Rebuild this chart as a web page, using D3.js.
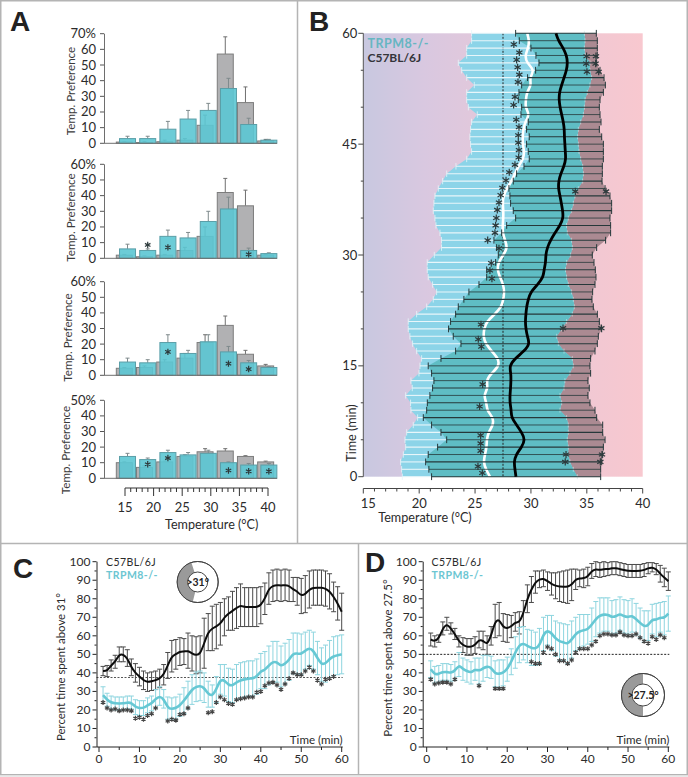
<!DOCTYPE html>
<html><head><meta charset="utf-8">
<script src="https://cdn.jsdelivr.net/npm/d3@7"></script>
<style>
html,body{margin:0;padding:0;background:#fff}
svg{display:block}
text{font-family:Lato,"Open Sans",sans-serif;fill:#2b2b2b}
</style></head><body><div id="c"></div>
<script>
// ---------- Panel A data ----------
const binCentersCyan=[15.44,18.97,22.5,26.03,29.56,33.09,36.62,40.15];
const binCentersGray=[14.88,18.41,21.94,25.47,29.0,32.53,36.06,39.59];
const a1Cyan=[3,3,9,15.5,21,35,12,2];
const a1CyanErr=[4.5,4.5,14,21,25.5,41.5,16,2.5];
const a1Gray=[0.8,0.5,1,2,11.5,57,26,1.5];
const a1GrayErr=[1,1,2,3,18,68,36,2.5];
const a1Stars=[];
const a2Cyan=[6,5,14,13,23.5,31.5,5,3];
const a2CyanErr=[9,6,18,16.5,30,39,6.5,3.5];
const a2Gray=[2,1,2,5,14,42,33.5,2];
const a2GrayErr=[2.5,1.5,2.5,7,20,51,43.5,2.5];
const a2Stars=[[18.97,8.5],[22.5,7],[36.62,2.5]];
const a3Cyan=[8.5,8,21,14,21.5,15,8,5];
const a3CyanErr=[11,10,26,16,26,18.5,9.5,5.5];
const a3Gray=[4.5,5,8.5,11,21,32,13.5,6];
const a3GrayErr=[5,6,10,14,26,38,16,7];
const a3Stars=[[22.5,15],[33.09,7.5],[36.62,4]];
const a4Cyan=[14,12,16.5,15,16,10,8.5,8.5];
const a4CyanErr=[16,13,18,16.5,18,10.5,9.5,9.5];
const a4Gray=[10,7,10.5,14,17,17.5,14,10.5];
const a4GrayErr=[10.5,8,11,15,19,19,14.5,11];
const a4Stars=[[18.97,9],[22.5,13],[33.09,5],[36.62,4.5],[40.15,4.5]];
const tempTicks=[15,20,25,30,35,40];

// ---------- Panel B data (index = minute 0..60) ----------
const cyanLeft=[18.49,18.43,18.34,18.58,18.79,18.73,18.88,19.47,19.86,19.26,19.23,18.79,19.38,19.26,19.98,20.07,20.22,19.77,19.41,19.17,19.02,19.02,19.77,20.67,21.26,21.56,21.2,20.81,20.72,20.72,21.35,22.0,22.0,21.86,21.5,21.41,21.26,21.32,21.41,21.71,22.1,22.46,23.29,24.25,24.69,24.6,24.54,24.6,24.69,25.2,24.4,24.25,24.25,24.93,24.25,23.8,23.5,24.25,24.25,24.69,24.69];
const cyanRight=[34.15,33.79,33.49,33.34,33.34,33.25,33.34,33.34,33.19,32.6,32.75,32.6,32.96,33.04,33.49,33.79,33.7,32.96,32.45,32.3,32.75,33.19,33.7,33.88,33.79,33.64,33.34,33.19,33.1,33.19,33.55,33.7,33.64,33.25,33.19,33.34,33.64,33.79,33.94,34.24,34.63,34.69,34.63,34.45,34.3,34.24,34.18,34.24,34.45,34.69,34.78,34.84,35.04,35.28,35.43,35.28,35.28,34.84,34.78,34.84,34.78];
const trpmMean=[26.33,25.97,25.74,25.89,26.04,26.04,26.19,26.63,26.63,26.04,26.04,25.74,26.19,25.97,26.48,27.17,27.08,26.48,25.94,25.74,25.8,26.04,26.78,27.38,27.53,27.62,27.53,27.23,26.99,27.08,27.53,27.92,27.68,27.47,27.47,27.53,27.53,27.47,27.53,27.83,28.27,28.57,28.87,29.32,29.41,29.26,29.26,29.32,29.47,29.91,29.47,29.56,29.61,30.06,29.85,30.36,29.61,29.47,29.76,29.85,29.67];
const c57Left=[21.11,20.87,20.58,20.81,21.65,22.46,21.95,21.11,20.37,20.67,20.73,20.96,21.2,21.32,21.11,20.81,21.95,23.26,23.74,23.05,22.63,22.81,23.26,23.5,24.0,24.45,25.35,26.04,26.04,26.84,27.08,26.93,26.69,27.38,27.83,28.63,28.42,28.18,28.12,28.03,28.42,28.72,29.38,29.85,29.76,29.61,29.85,29.61,29.76,29.11,29.17,28.87,28.93,29.17,29.7,30.42,30.72,30.45,30.0,28.96,28.63];
const c57Right=[36.24,36.24,36.33,36.42,36.48,36.63,36.42,36.42,35.88,35.73,35.28,35.1,35.22,35.1,35.34,35.28,35.34,35.73,35.94,36.03,36.33,36.12,35.94,35.58,35.46,35.52,35.73,35.82,35.76,35.64,35.49,35.88,36.68,37.13,37.13,37.07,37.22,37.22,37.07,36.63,36.36,36.39,36.39,36.48,36.48,36.48,36.33,36.12,36.27,36.18,36.12,36.18,36.48,36.66,36.54,36.18,35.88,35.94,35.94,35.94,35.85];
const c57Mean=[28.66,28.57,28.48,28.66,29.17,29.49,29.17,28.72,28.24,28.24,28.12,28.12,28.18,28.21,28.21,28.06,28.57,29.41,29.91,29.67,29.55,29.49,29.55,29.61,29.76,29.97,30.6,31.11,31.17,31.32,31.32,31.46,31.76,32.15,32.6,32.9,32.84,32.72,32.6,32.45,32.48,32.66,32.96,33.13,33.07,33.04,32.99,32.99,32.9,32.75,32.6,32.51,32.54,32.75,32.96,33.19,33.28,33.19,32.9,32.45,32.24];
const bStars=[[28.47,58.5],[28.96,57.4],[28.72,56.4],[28.81,55.4],[28.96,54.4],[28.84,53.4],[28.57,51.4],[28.45,50.3],[28.69,48.3],[28.93,47.3],[28.87,46.2],[28.87,45.2],[28.93,44.2],[28.9,43.2],[28.57,42.2],[28.06,41.2],[27.77,40.1],[27.44,39.1],[27.29,38.1],[27.14,37.1],[26.99,36.1],[26.9,35],[26.84,34],[26.78,33],[26.13,32],[27.14,30.9],[26.45,28.9],[26.33,27.9],[26.51,26.8],[25.53,20.6],[25.29,18.6],[25.56,17.6],[25.68,12.5],[25.41,9.5],[25.5,5.6],[25.5,4.5],[25.5,3.5],[25.26,1.4],[25.65,0.5],
[34.98,56.9],[35.82,56.9],[34.95,55.9],[35.79,55.9],[35.01,54.8],[36.06,54.8],[33.97,38.6],[36.72,38.6],[32.87,20.1],[36.3,20.1],[33.14,3],[36.36,3],[33.07,2],[36.21,2]];
const bTimeTicks=[0,15,30,45,60];

// ---------- Panels C and D data (index 0 = minute 1) ----------
const minutes=d3.range(1,61);
const cBlack=[41,41,44,46,50,50,48,43,40,38,36,35,35.5,36,37,39,44,49,50,51.5,51.5,52,50.5,49.5,50,56,62,64,65,66.5,70,72,73.5,75,76.5,75.5,75.5,75.5,75.5,76.5,80,85.5,87,87.5,87,87.5,87,85,84,81.5,82.5,85,86,86,86,85.5,84,81,77.5,73];
const cBlackErr=[2.5,3,3,3.5,4,4,4.5,4.5,5,5,5,5,5,5,5,5.5,7,8.5,8,7.5,7,9.5,9.5,10,10,13.5,10,12,12,11.5,10,9,10.5,11,11.5,10.5,10.5,10.5,10.5,10,8.5,8.5,8.5,8.5,8.5,8.5,8.5,6.5,7.5,9.5,10,10,9.5,9.5,9.5,9.5,9.5,8,9,10];
const cTeal=[28,25.5,24,23.5,23.5,23.5,24,24,21.5,21,21,22.5,23.5,26,27.5,26,21,20.5,21,22.5,25,28,31,32.5,33,32,28.5,27.5,31,36.5,36,33.5,33,35,36,36.5,37,37,38,41,41.5,44,46,46,43.5,45,47,50.5,50.5,50,52,53.5,52,48,44.5,45,47.5,49,49.5,50];
const cTealErr=[4.5,3.5,3.5,3.5,3.5,3.5,3.5,3.5,4,4,4,4,4,5,5,5,6,6,6,6,7,7.5,8,8,8,8,7,6,7,8,8.5,9,9,9.5,9.5,9.5,9.5,9.5,9.5,9.5,10,10.5,11,11,11,11,11,11,11,11,10,9.5,10,9,9,10,10,10.5,10.5,10.5];
const cStars=[[1,24],[2,21],[3,20],[4,20.5],[5,19.5],[6,20],[7,20],[8,19.5],[9,15.5],[10,16],[11,15],[12,17],[13,18],[14,21],[17,14],[18,15],[19,14.5],[20,17.5],[21,18],[22,21],[27,18.5],[28,19],[29,24],[30,27],[31,25.5],[32,23.5],[33,23],[34,25.5],[35,26],[36,26.5],[37,27],[38,27],[39,29.5],[40,30],[41,33],[42,34.5],[43,35],[44,33.5],[45,31],[46,34],[47,37],[48,40],[49,39],[50,39],[51,41],[52,43],[53,41],[54,36],[55,34],[56,36.5],[57,37],[58,38]];
const dBlack=[58,57,58.5,64,66.5,64,61,57,55,54,54,55,58,57.5,55,60,68,69,64.5,64,65,67.5,67,72,80,85,89,90.5,91,89.5,88,87,86.5,86.5,86.5,87.5,90.5,91,91,92,95,96,95.5,96,96,96.5,96.5,96,95.5,95,95,95,95,95.5,96.5,97,96,93.5,91.5,89.5];
const dBlackErr=[3.5,3,2,3.5,3.5,3,3,3,4,4.5,4.5,4.5,4.5,5,5,5,9,9,7.5,7.5,6,5,6,7,7.5,7,6,4.5,4.5,5,6,7,8,8.5,9,8.5,5.5,4.5,5,5,4,4,4,4,3.5,3.5,3.5,3.5,3.5,3.5,3.5,3.5,3.5,3.5,3,2.5,3,4.5,5,5];
const dTeal=[42,39,39.5,40.5,40.5,40,41,44.5,42,41,40,42,41,42.5,43.5,43,39.5,39.5,40,42,46,51,55,56,54.5,53.5,53,54.5,61,63,61.5,58.5,57,56.5,55.5,58,61,62.5,63,63.5,66,69,71,71.5,71.5,70,70.5,72,70.5,70,71,69,67,65,65.5,69,68.5,70,69.5,72];
const dTealErr=[4.5,4.5,4.5,4.5,4.5,4.5,5,6.5,6,6,6,6,7,7,6,6,7,7.5,7,6.5,7,8.5,9.5,9,9,9.5,9,9.5,9,8,9.5,9.5,10,10,10.5,10,9,9,8.5,8,9,9.5,9.5,9,9,9,9,9,9,9,9,8.5,8,8.5,8,8,9,8,9,9.5];
const dStars=[[1,36.5],[2,34],[3,34.5],[4,35],[5,35],[6,34],[7,36.5],[13,33],[17,31.5],[18,31.5],[19,31.5],[26,46],[27,45],[28,45],[29,51],[30,54],[31,53],[32,50],[33,46.5],[34,46.5],[35,45],[36,47],[37,51],[38,53],[39,53],[40,53],[41,55],[42,57],[43,60],[44,61],[45,61],[46,60.5],[47,60.5],[48,62],[49,60.5],[50,60],[51,60],[52,61],[53,59],[54,57],[55,56],[56,59.5],[57,58],[58,60.5],[59,59]];

// ---------- Page ----------
const W=688,H=777;
const svg=d3.select('#c').append('svg').attr('width',W).attr('height',H);
const starPath=d3.symbol().type(d3.symbolAsterisk);
function stars(g,list,x,y,size,col){
  g.selectAll(null).data(list).join('path')
   .attr('d',starPath.size(size))
   .attr('transform',d=>`translate(${x(d[0])},${y(d[1])})`)
   .attr('fill','none').attr('stroke',col||'#2d3a3c').attr('stroke-width',1.2);
}
function txt(g,s,x,y,o){
  o=o||{};
  const t=g.append('text').text(s).attr('x',x).attr('y',y)
    .attr('font-size',o.size||12).attr('text-anchor',o.anchor||'middle');
  if(o.fill)t.style('fill',o.fill);
  if(o.weight)t.attr('font-weight',o.weight);
  if(o.family)t.style('font-family',o.family);
  if(o.spacing)t.attr('letter-spacing',o.spacing);
  if(o.rotate)t.attr('transform',`rotate(${o.rotate} ${x} ${y})`);
  return t;
}

// frame
const frame=svg.append('g').attr('fill','none').attr('stroke','#b4b4b4').attr('stroke-width',1.5);
frame.append('rect').attr('x',0.75).attr('y',0.75).attr('width',W-1.5).attr('height',774);
frame.append('line').attr('x1',297.5).attr('x2',297.5).attr('y1',0).attr('y2',543);
frame.append('line').attr('x1',0).attr('x2',W).attr('y1',543.5).attr('y2',543.5);
frame.append('line').attr('x1',358.5).attr('x2',358.5).attr('y1',543).attr('y2',775);
svg.append('rect').attr('x',0).attr('y',775.5).attr('width',W).attr('height',1.5).attr('fill','#e9e9e9');

// panel letters
[['A',10,31],['B',309,31],['C',13,578],['D',365,572]].forEach(d=>
  txt(svg,d[0],d[1],d[2],{size:28,anchor:'start',weight:700,family:'"Liberation Sans",Arial,sans-serif',fill:'#222'}));

// ---------- A ----------
const ax=d3.scaleLinear().domain([15,40]).range([125,268]);
const aPanels=[
 {c:a1Cyan,ce:a1CyanErr,g:a1Gray,ge:a1GrayErr,s:a1Stars,max:70,y0:143.3,y1:33.7,tx:71,ty:91},
 {c:a2Cyan,ce:a2CyanErr,g:a2Gray,ge:a2GrayErr,s:a2Stars,max:60,y0:258.3,y1:164.3,tx:71,ty:217.5},
 {c:a3Cyan,ce:a3CyanErr,g:a3Gray,ge:a3GrayErr,s:a3Stars,max:60,y0:375.3,y1:281.7,tx:68,ty:337.5},
 {c:a4Cyan,ce:a4CyanErr,g:a4Gray,ge:a4GrayErr,s:a4Stars,max:50,y0:478.3,y1:400.3,tx:66,ty:450}
];
aPanels.forEach(p=>{
  const g=svg.append('g');
  const y=d3.scaleLinear().domain([0,p.max]).range([p.y0,p.y1]);
  const bw=16;
  const err=(vals,tops,xs,col)=>{
    xs.forEach((c,i)=>{
      const X=ax(c);
      g.append('line').attr('x1',X).attr('x2',X).attr('y1',y(vals[i])).attr('y2',y(tops[i])).attr('stroke',col);
      g.append('line').attr('x1',X-2).attr('x2',X+2).attr('y1',y(tops[i])).attr('y2',y(tops[i])).attr('stroke',col);
    });
  };
  err(p.g,p.ge,binCentersGray,'#6f6f6f');
  g.selectAll(null).data(p.g).join('rect')
   .attr('x',(d,i)=>ax(binCentersGray[i])-bw/2).attr('width',bw)
   .attr('y',d=>y(d)).attr('height',d=>p.y0-y(d))
   .attr('fill','#b1b1b3').attr('stroke','#7d7d7d').attr('stroke-width',1);
  err(p.c,p.ce,binCentersCyan,'#7f8a8c');
  g.selectAll(null).data(p.c).join('rect')
   .attr('x',(d,i)=>ax(binCentersCyan[i])-bw/2).attr('width',bw)
   .attr('y',d=>y(d)).attr('height',d=>p.y0-y(d))
   .attr('fill','#5cc6d3').attr('fill-opacity',0.9).attr('stroke','#5a9ea7').attr('stroke-width',1);
  stars(g,p.s,ax,y,28);
  // axes
  g.append('line').attr('x1',104).attr('x2',277).attr('y1',p.y0).attr('y2',p.y0).attr('stroke','#6e6e6e');
  g.append('line').attr('x1',104.5).attr('x2',104.5).attr('y1',p.y0).attr('y2',p.y1).attr('stroke','#6e6e6e');
  y.ticks(p.max/10).forEach(t=>{
    g.append('line').attr('x1',100).attr('x2',104).attr('y1',y(t)).attr('y2',y(t)).attr('stroke','#555');
    txt(g,t===p.max?t+'%':String(t),96,y(t)+4.5,{size:13,anchor:'end'});
  });
  txt(g,'Temp. Preference',p.tx+4,p.ty,{size:11.6,rotate:-90,fill:'#3a3a3a'});
});
{
  const g=svg.append('g');
  const yT=488;
  g.append('line').attr('x1',ax(15)).attr('x2',ax(40)).attr('y1',yT).attr('y2',yT).attr('stroke','#333');
  d3.range(15,41).forEach(t=>{
    const maj=t%5===0;
    g.append('line').attr('x1',ax(t)).attr('x2',ax(t)).attr('y1',yT).attr('y2',yT+(maj?8:4)).attr('stroke','#333');
  });
  tempTicks.forEach(t=>txt(g,String(t),ax(t),512,{size:13}));
  txt(g,'Temperature (°C)',211.7,529,{size:12.6});
}

// ---------- B ----------
{
  const g=svg.append('g');
  const x=d3.scaleLinear().domain([15,40]).range([363.3,642.7]);
  const y=d3.scaleLinear().domain([0,60]).range([476.7,33.3]);
  const grad=svg.append('defs').append('linearGradient').attr('id','bg');
  [[0,'#c8c8e0'],[0.22,'#d9c8e0'],[0.55,'#e8c8d8'],[1,'#f8c8cf']].forEach(s=>
    grad.append('stop').attr('offset',s[0]).attr('stop-color',s[1]));
  g.append('rect').attr('x',x(15)).attr('y',y(60)).attr('width',x(40)-x(15)).attr('height',y(0)-y(60)).attr('fill','url(#bg)');
  const mins=d3.range(0,61);
  const band=(l,r,col)=>g.append('path').attr('fill',col).attr('d',
    d3.area().y(i=>y(i)).x0(i=>x(l[i])).x1(i=>x(r[i]))(mins));
  band(c57Left,c57Right,'#ab8a92');
  band(cyanLeft,cyanRight,'#8cd4e8');
  band(c57Left,cyanRight,'#5fbdc4');
  // dotted reference
  g.append('line').attr('x1',x(27.5)).attr('x2',x(27.5)).attr('y1',y(60)).attr('y2',y(0))
   .attr('stroke','#222').attr('stroke-dasharray','2 1.5');
  // cyan (white) error bars
  mins.forEach(i=>{
    const Y=y(i);
    g.append('line').attr('x1',x(cyanLeft[i])).attr('x2',x(c57Left[i])).attr('y1',Y).attr('y2',Y).attr('stroke','#e8f6fa').attr('stroke-width',1.1);
    g.append('line').attr('x1',x(cyanLeft[i])).attr('x2',x(cyanLeft[i])).attr('y1',Y-3.2).attr('y2',Y+3.2).attr('stroke','#e6f6fa').attr('stroke-width',0.8);
    g.append('line').attr('x1',x(cyanRight[i])).attr('x2',x(cyanRight[i])).attr('y1',Y-2.5).attr('y2',Y+2.5).attr('stroke','#cfe8ea').attr('stroke-width',0.6);
  });
  // white mean
  g.append('path').attr('fill','none').attr('stroke','#fff').attr('stroke-width',2.6)
   .attr('d',d3.line().curve(d3.curveBasis).y(i=>y(i)).x(i=>x(trpmMean[i]))(mins));
  // black error bars
  mins.forEach(i=>{
    const Y=y(i);
    g.append('line').attr('x1',x(c57Left[i])).attr('x2',x(c57Right[i])).attr('y1',Y).attr('y2',Y).attr('stroke','#26383a').attr('stroke-width',i%2?0.8:1.1);
    [c57Left[i],c57Right[i]].forEach(v=>g.append('line').attr('x1',x(v)).attr('x2',x(v)).attr('y1',Y-3.4).attr('y2',Y+3.4).attr('stroke','#26383a').attr('stroke-width',1));
  });
  g.append('path').attr('fill','none').attr('stroke','#000').attr('stroke-width',2.8)
   .attr('d',d3.line().curve(d3.curveBasis).y(i=>y(i)).x(i=>x(c57Mean[i]))(mins));
  stars(g,bStars,x,y,36);
  // axes
  g.append('line').attr('x1',x(15)).attr('x2',x(15)).attr('y1',y(60)).attr('y2',y(0)).attr('stroke','#555');
  d3.range(0,61,5).forEach(t=>{
    const maj=t%15===0;
    g.append('line').attr('x1',x(15)-(maj?5:2.5)).attr('x2',x(15)).attr('y1',y(t)).attr('y2',y(t)).attr('stroke','#444');
  });
  bTimeTicks.forEach(t=>txt(g,String(t),x(15)-6,y(t)+4.5,{size:13,anchor:'end'}));
  txt(g,'Time (min)',356,433,{size:12.6,rotate:-90});
  const yA=488.5;
  g.append('line').attr('x1',x(15)).attr('x2',x(40)).attr('y1',yA).attr('y2',yA).attr('stroke','#444');
  d3.range(15,41).forEach(t=>{
    const maj=t%5===0;
    g.append('line').attr('x1',x(t)).attr('x2',x(t)).attr('y1',yA).attr('y2',yA+(maj?5:3)).attr('stroke','#444');
  });
  tempTicks.forEach(t=>txt(g,String(t),x(t)+(t===15?5:0),508,{size:13}));
  txt(g,'Temperature (°C)',425,522,{size:12.6});
  txt(g,'TRPM8-/-',367.5,48,{size:12.5,anchor:'start',weight:700,fill:'#66b6c2',spacing:0.5});
  txt(g,'C57BL/6J',367.5,62,{size:12,anchor:'start',weight:700,fill:'#33343a'});
}

// ---------- C & D ----------
function timePanel(o){
  const g=svg.append('g');
  const x=d3.scaleLinear().domain([0,60]).range(o.xr);
  const y=d3.scaleLinear().domain([0,100]).range([747,561.7]);
  const line=d3.line().curve(d3.curveBasis).x((d,i)=>x(minutes[i])).y(d=>y(d));
  g.append('line').attr('x1',o.ax).attr('x2',x(60)+1).attr('y1',y(o.ref)).attr('y2',y(o.ref))
   .attr('stroke',o.refCol).attr('stroke-dasharray','2 1.5');
  const ebars=(vals,errs,col)=>{
    vals.forEach((v,i)=>{
      const X=x(minutes[i]),top=Math.min(v+errs[i],100),bot=v-errs[i];
      g.append('line').attr('x1',X).attr('x2',X).attr('y1',y(top)).attr('y2',y(bot)).attr('stroke',col);
      [top,bot].forEach(b=>g.append('line').attr('x1',X-2.5).attr('x2',X+2.5).attr('y1',y(b)).attr('y2',y(b)).attr('stroke',col));
    });
  };
  ebars(o.black,o.blackErr,'#4a4a4a');
  ebars(o.teal,o.tealErr,'#8ed5df');
  g.append('path').attr('d',line(o.black)).attr('fill','none').attr('stroke','#0d0d0d').attr('stroke-width',2);
  g.append('path').attr('d',line(o.teal)).attr('fill','none').attr('stroke','#66c8d4').attr('stroke-width',2.6);
  stars(g,o.stars,x,y,17,'#444');
  // axes
  g.append('line').attr('x1',o.ax+.5).attr('x2',o.ax+.5).attr('y1',y(0)).attr('y2',y(100)).attr('stroke','#222');
  g.append('line').attr('x1',o.ax).attr('x2',x(60)+1).attr('y1',y(0)).attr('y2',y(0)).attr('stroke','#222');
  d3.range(0,101,5).forEach(t=>{
    const maj=t%10===0;
    g.append('line').attr('x1',o.ax-(maj?4:2)).attr('x2',o.ax).attr('y1',y(t)).attr('y2',y(t)).attr('stroke','#222');
  });
  y.ticks(10).forEach(t=>txt(g,String(t),o.ax-6,y(t)+4,{size:12,anchor:'end'}));
  d3.range(0,61,5).forEach(t=>{
    const maj=t%10===0;
    g.append('line').attr('x1',x(t)).attr('x2',x(t)).attr('y1',y(0)).attr('y2',y(0)+(maj?5:3)).attr('stroke','#222');
  });
  d3.range(0,61,10).forEach(t=>txt(g,String(t),x(t),763,{size:12}));
  txt(g,'Time (min)',x(60)+1,744,{size:11.6,anchor:'end'});
  txt(g,o.ylabel,o.ylx,o.yly,{size:11.4,rotate:-90});
  txt(g,'C57BL/6J',o.legx,566,{size:10.5,anchor:'start',spacing:0.45});
  txt(g,'TRPM8-/-',o.legx,578.5,{size:10.5,anchor:'start',weight:700,fill:'#6cc6d2',spacing:0.45});
  // arena
  const arc=d3.arc();
  const c=g.append('g').attr('transform',`translate(${o.cx},${o.cy})`);
  c.append('circle').attr('r',o.R).attr('fill','#fff').attr('stroke','#444').attr('stroke-width',1);
  c.append('path').attr('fill','#9a9a9a').attr('d',arc({innerRadius:o.r,outerRadius:o.R,startAngle:o.a0*Math.PI/180,endAngle:o.a1*Math.PI/180}));
  c.append('circle').attr('r',o.R).attr('fill','none').attr('stroke','#444');
  c.append('circle').attr('r',o.r).attr('fill','#fff').attr('stroke','#444');
  txt(c,o.ctext,0,o.ts/2.8,{size:o.ts,weight:700,fill:'#222'});
}
timePanel({xr:[99,341.7],ax:96.5,ref:37.5,refCol:'#555',black:cBlack,blackErr:cBlackErr,teal:cTeal,tealErr:cTealErr,stars:cStars,
  ylabel:'Percent time spent above 31°',ylx:65,yly:667,legx:106,cx:197.7,cy:582,R:20.5,r:10,a0:194,a1:342,ctext:'>31°',ts:10.5});
timePanel({xr:[426.7,668.3],ax:422.7,ref:50,refCol:'#222',black:dBlack,blackErr:dBlackErr,teal:dTeal,tealErr:dTealErr,stars:dStars,
  ylabel:'Percent time spent above 27.5°',ylx:392,yly:658,legx:431.5,cx:643,cy:695,R:21.5,r:11,a0:180,a1:360,ctext:'>27.5°',ts:10.5});
</script></body></html>
